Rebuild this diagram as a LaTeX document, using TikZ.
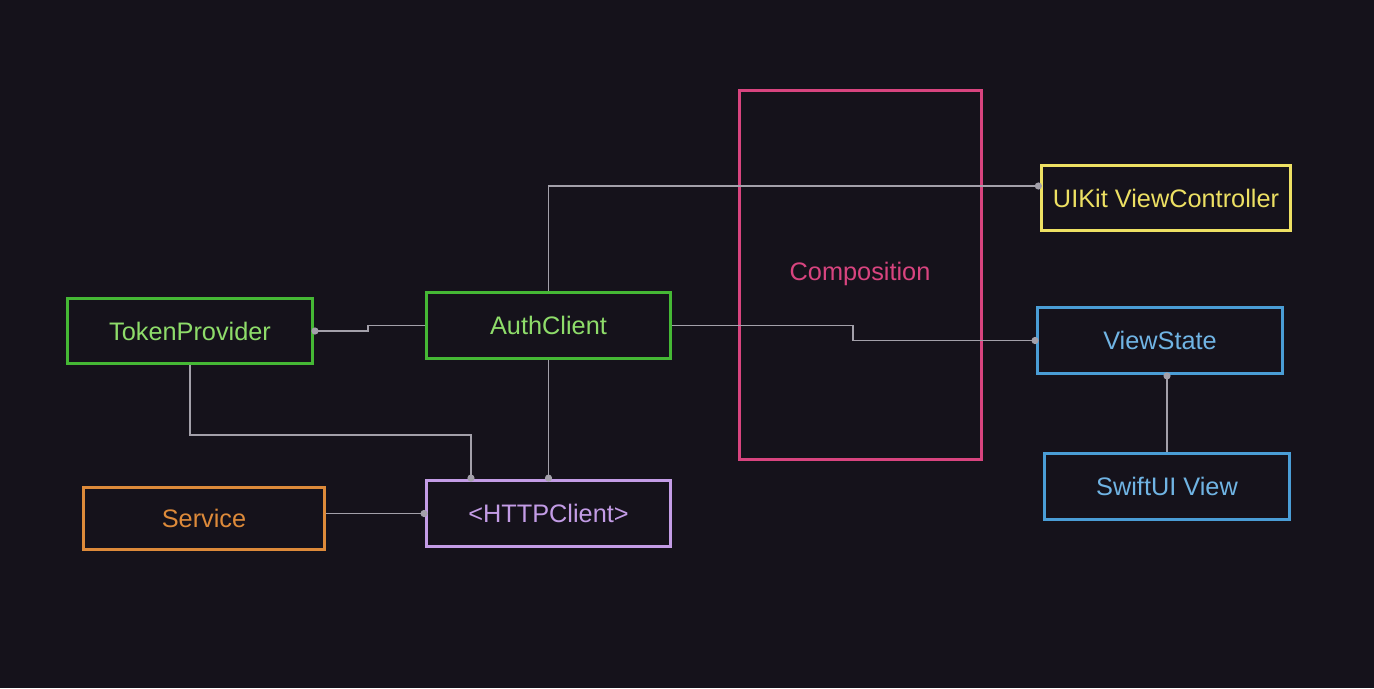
\documentclass[tikz,border=0pt]{standalone}
\usepackage{fontspec}
\setsansfont{Liberation Sans}
\usetikzlibrary{arrows.meta,positioning}

\definecolor{bgdark}{HTML}{15121B}
\definecolor{tokgreen}{HTML}{45B835}
\definecolor{tokgreentext}{HTML}{8EDC6A}
\definecolor{httppurple}{HTML}{C39CE6}
\definecolor{svcorange}{HTML}{DD8A3A}
\definecolor{comppink}{HTML}{D8447F}
\definecolor{uiyellow}{HTML}{EDE063}
\definecolor{stateblue}{HTML}{4A9DD6}
\definecolor{stateblueText}{HTML}{70B4E4}
\definecolor{wiregrey}{HTML}{A3A0AA}

\begin{document}
\begin{tikzpicture}[
    x=0.01cm, y=-0.01cm,
    >=Stealth,
    box/.style={
        rectangle, draw, line width=0.85pt,
        minimum width=2.44cm, minimum height=0.65cm,
        text centered, font=\sffamily\fontsize{7.2}{8}\selectfont
    },
    conn/.style={-{Circle[length=2pt]}, shorten >=-0.6pt, line width=0.55pt, color=wiregrey}
]
    % Background
    \fill[bgdark] (0,0) rectangle (1374,688);
    \useasboundingbox (0,0) rectangle (1374,688);

    % Nodes
    \node[box, draw=comppink, text=comppink, minimum width=2.41cm, minimum height=3.68cm] (comp) at (860.5,275) {};
    \node[font=\sffamily\fontsize{7.2}{8}\selectfont, text=comppink] (complabel) at (860,274) {Composition};

    \node[box, draw=tokgreen, text=tokgreentext] (token) at (190,331) {TokenProvider};
    \node[box, draw=tokgreen, text=tokgreentext, minimum width=2.43cm] (auth) at (548.5,325.5) {AuthClient};
    \node[box, draw=httppurple, text=httppurple, minimum width=2.43cm] (http) at (548.5,513.5) {<HTTPClient>};
    \node[box, draw=svcorange, text=svcorange, minimum width=2.40cm, minimum height=0.61cm] (service) at (204,518.5) {Service};

    \node[box, draw=uiyellow, text=uiyellow, minimum width=2.42cm, minimum height=0.64cm] (uikit) at (1166,198) {UIKit ViewController};
    \node[box, draw=stateblue, text=stateblueText] (vstate) at (1160,340.5) {ViewState};
    \node[box, draw=stateblue, text=stateblueText] (swiftui) at (1167,486.5) {SwiftUI View};

    % Connections
    \draw[conn] (auth.west) -- ++(-57,0) |- (token.east);
    \draw[conn] (auth.north) |- ([yshift=0.12cm]uikit.west);
    \draw[conn] (auth.east) -- (853,325.5) |- (vstate.west);
    \draw[conn] (auth.south) -- (http.north);
    \draw[conn] (token.south) -- ++(0,70) -| ([xshift=-0.775cm]http.north);
    \draw[conn] (service.east |- http.west) -- (http.west);
    \draw[conn] (swiftui.north) -- (swiftui.north |- vstate.south);

\end{tikzpicture}
\end{document}
